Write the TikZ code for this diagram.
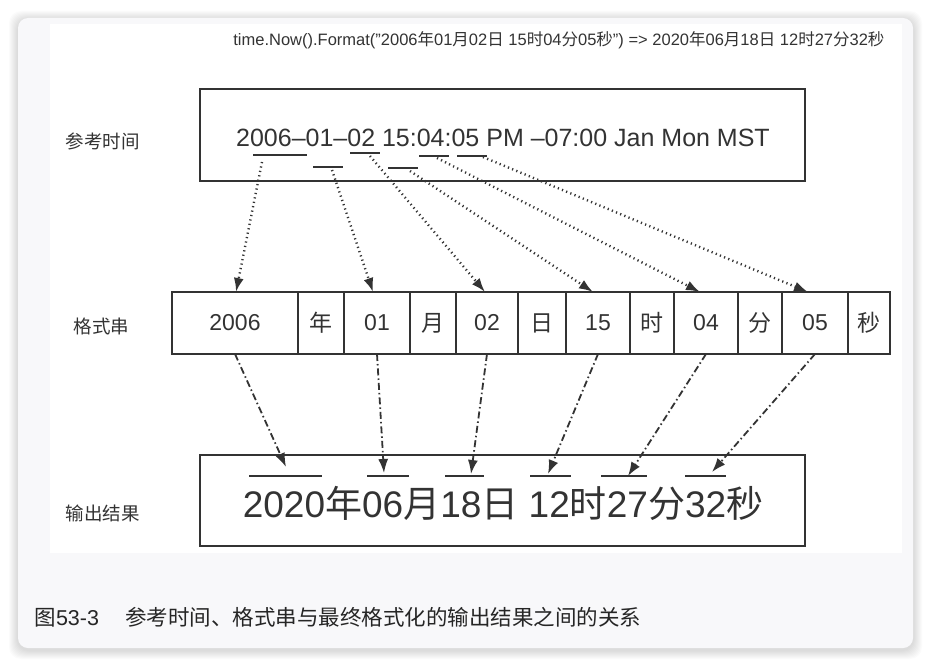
\documentclass[tikz,border=0pt]{standalone}
\usepackage{fontspec}
\setmainfont{Liberation Sans}
\newfontfamily\cjk{Noto Sans CJK SC}
\usetikzlibrary{arrows.meta,positioning,calc}
\definecolor{inkgray}{RGB}{51,51,51}
\definecolor{cardgray}{RGB}{248,248,250}
\newcommand{\zh}[1]{{\cjk #1}}

\begin{document}
\begin{tikzpicture}[x=1pt,y=-1pt,>={Latex[length=14pt,width=10pt]},
  refbox/.style={draw=inkgray,line width=1.6pt,inner sep=0pt,outer sep=0pt},
  cell/.style={draw=inkgray,line width=1.4pt,minimum height=62pt,inner sep=0pt,
    outer sep=0pt,text=inkgray,font=\fontsize{23}{27}\selectfont},
  tag/.style={anchor=west,text=inkgray,font=\cjk\fontsize{18.5}{22}\selectfont},
  ulmark/.style={inkgray,line width=1.8pt},
  dotarrow/.style={->,inkgray,line width=2.4pt,dash pattern=on 1.2pt off 3.3pt},
  dasharrow/.style={->,inkgray,line width=1.8pt,dash pattern=on 7pt off 3pt on 1.5pt off 3pt}]
 \useasboundingbox (0,0) rectangle (931,666);
 % card with soft shadow
 \foreach \s in {1,...,9}
  \fill[black,opacity=.014,rounded corners=12pt] (18-\s,18-\s+2) rectangle (913+\s,648+\s+2);
 \fill[cardgray,rounded corners=10pt] (18,18) rectangle (913,648);
 \fill[white] (50,24) rectangle (902,553);

 \node[anchor=east,text=inkgray,font=\fontsize{16.5}{20}\selectfont] (title) at (888,40)
  {time.Now().Format("2006\zh{年}01\zh{月}02\zh{日} 15\zh{时}04\zh{分}05\zh{秒}") => 2020\zh{年}06\zh{月}18\zh{日} 12\zh{时}27\zh{分}32\zh{秒}};

 % reference time
 \node[tag] (reflabel) at (62,141) {参考时间};
 \node[refbox,minimum width=605pt,minimum height=92pt,anchor=north west] (ref) at (200,89) {};
 \node[text=inkgray,font=\fontsize{25}{30}\selectfont] (reftxt) at (503,138)
  {2006--01--02 15:04:05 PM --07:00 Jan Mon MST};
 \foreach \a/\b/\y in {253/307/155,313/343/167,350/380/153,388/418/168,419/449/156,457/487/156}
  \draw[ulmark] (\a,\y) -- (\b,\y);

 % format string
 \node[tag] (fmtlabel) at (70,326) {格式串};
 \foreach \w/\t [count=\i] in {126/2006,46/\zh{年},66/01,46/\zh{月},62/02,48/\zh{日},
   64/15,44/\zh{时},64/04,44/\zh{分},66/05,42/\zh{秒}} {
  \ifnum\i=1
   \node[cell,minimum width=\w pt,anchor=north west] (f1) at (172,292) {\t};
  \else
   \pgfmathtruncatemacro\j{\i-1}
   \node[cell,minimum width=\w pt,right=0pt of f\j] (f\i) {\t};
  \fi
 }

 % output
 \node[tag] (outlabel) at (62,513) {输出结果};
 \node[refbox,minimum width=605pt,minimum height=91pt,anchor=north west] (out) at (200,455) {};
 \node[text=inkgray,font=\fontsize{37}{44}\selectfont] (outtxt) at (503,503)
  {2020\zh{年}06\zh{月}18\zh{日} 12\zh{时}27\zh{分}32\zh{秒}};
 \foreach \a/\b in {249/322,367/409,445/484,530/571,601/647,685/726}
  \draw[ulmark] (\a,476) -- (\b,476);

 % connectors
 \coordinate (s1) at (262,162); \coordinate (s2) at (332,170);
 \coordinate (s3) at (370,156); \coordinate (s4) at (410,171);
 \coordinate (s5) at (437,158); \coordinate (s6) at (483,157);
 \coordinate (e1) at (286,467); \coordinate (e2) at (384,473);
 \coordinate (e3) at (471,474); \coordinate (e4) at (548,474);
 \coordinate (e5) at (628,476); \coordinate (e6) at (712,472);
 \foreach \k/\c/\dx in {1/1/1,2/3/-4,3/5/-2,4/7/-5,5/9/-6,6/11/-7} {
  \draw[dotarrow] (s\k) -- ([xshift=\dx pt]f\c.north);
  \draw[dasharrow] (f\c.south) -- (e\k);
 }

 \node[anchor=west,text=black!85,font=\cjk\fontsize{21.5}{26}\selectfont] (caption) at (31,617)
  {图{\rmfamily 53-3}\hspace{26pt}参考时间、格式串与最终格式化的输出结果之间的关系};
\end{tikzpicture}
\end{document}
